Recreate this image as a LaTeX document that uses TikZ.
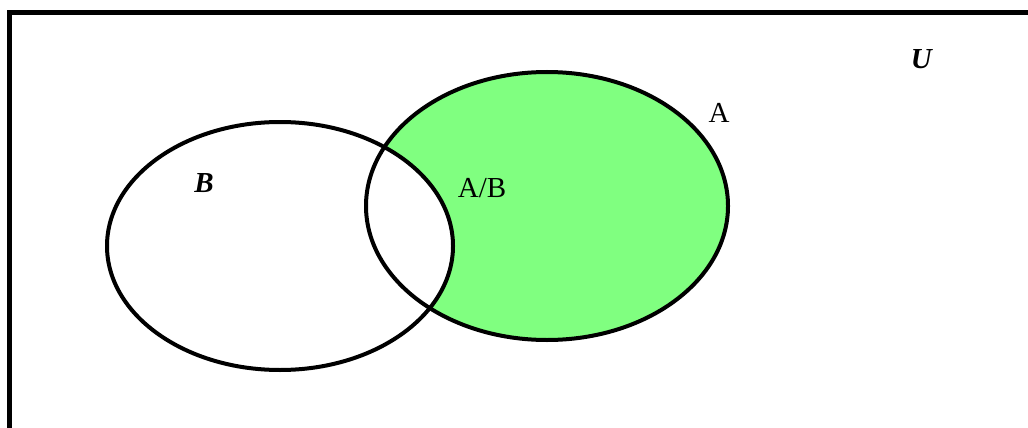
\documentclass[tikz,border=0pt]{standalone}
\usepackage{fontspec}
\setmainfont{Liberation Serif}
\definecolor{vgreen}{HTML}{80FF80}
\begin{document}
\begin{tikzpicture}[x=1pt,y=-1pt,
  lbl/.style={font=\fontsize{29}{29}\selectfont, inner sep=0pt},
  setline/.style={line width=4pt}]
\useasboundingbox (0,0) rectangle (1028,428);
% frame (only top and left edges visible)
\draw[line width=5pt] (9.5,430) -- (9.5,12.5) -- (1030,12.5);
% fills
\fill[vgreen] (547,206) ellipse [x radius=181, y radius=134];
\fill[white] (280,246) ellipse [x radius=173, y radius=124];
% outlines
\draw[setline] (547,206) ellipse [x radius=181, y radius=134];
\draw[setline] (280,246) ellipse [x radius=173, y radius=124];
% labels
\node[lbl] (u) at (922,59) {\textbf{\textit{U}}};
\node[lbl] (b) at (204,183) {\textbf{\textit{B}}};
\node[lbl] (ab) at (482,188) {A/B};
\node[lbl] (a) at (719,113) {A};
\end{tikzpicture}
\end{document}
